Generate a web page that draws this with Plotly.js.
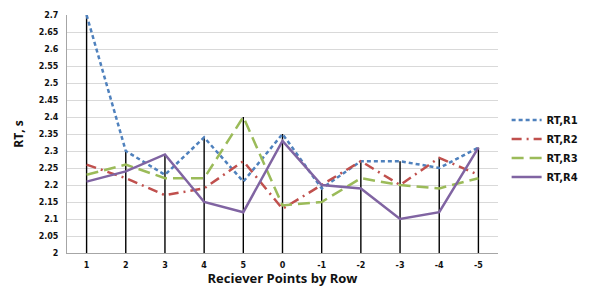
<!DOCTYPE html>
<html><head><meta charset="utf-8">
<script src="https://cdn.plot.ly/plotly-3.0.1.min.js"></script>
<style>body{margin:0;padding:0;background:#fff}#c{width:596px;height:287px}</style>
</head><body><div id="c"></div>
<script>
const categories = ["1","2","3","4","5","0","-1","-2","-3","-4","-5"];
const rtR1 = [2.70,2.30,2.23,2.34,2.21,2.35,2.19,2.27,2.27,2.25,2.31];
const rtR2 = [2.26,2.22,2.17,2.19,2.27,2.13,2.20,2.27,2.20,2.28,2.23];
const rtR3 = [2.23,2.26,2.22,2.22,2.40,2.14,2.15,2.22,2.20,2.19,2.22];
const rtR4 = [2.21,2.24,2.29,2.15,2.12,2.33,2.20,2.19,2.10,2.12,2.31];
const seriesNames = ["RT,R1","RT,R2","RT,R3","RT,R4"];
const yTicks = [2,2.05,2.1,2.15,2.2,2.25,2.3,2.35,2.4,2.45,2.5,2.55,2.6,2.65,2.7];

const all = [rtR1,rtR2,rtR3,rtR4];
const colors = ["#4f81bd","#c0504d","#9bbb59","#8064a2"];
const dashes = ["4px,3px","10px,5px,2px,5px","12px,6px","solid"];

// drop lines from highest point to axis
const dx = [], dy = [];
categories.forEach((c,i)=>{
  const m = Math.max(...all.map(a=>a[i]));
  dx.push(c,c,null); dy.push(2,m,null);
});
const traces = [{
  x: dx, y: dy, mode:'lines', line:{color:'#000',width:1.4}, showlegend:false, hoverinfo:'skip'
}];
all.forEach((a,k)=>traces.push({
  x: categories, y: a, name: seriesNames[k], mode:'lines',
  line:{color:colors[k], width:2.5, dash:dashes[k]}
}));

const tf = {family:'"DejaVu Sans", Verdana, sans-serif', size:8, color:'#111', weight:'bold'};
Plotly.newPlot('c', traces, {
  width:596, height:287,
  margin:{l:67,r:93,t:15,b:34},
  paper_bgcolor:'#fff', plot_bgcolor:'#fff',
  showlegend:true,
  legend:{x:1.02, y:0.62, xanchor:'left', yanchor:'top', bgcolor:'rgba(0,0,0,0)',
    font:{family:'"DejaVu Sans", Verdana, sans-serif', size:10, color:'#111', weight:'bold'},
    tracegroupgap:0, itemwidth:30},
  xaxis:{type:'category', categoryorder:'array', categoryarray:categories,
    range:[-0.5,10.5], showgrid:false, showline:true, linecolor:'#a6a6a6', linewidth:1,
    ticks:'', tickfont:tf, zeroline:false, ticklabelstandoff:4,
    title:{text:'Reciever Points by Row', standoff:2,
      font:{family:'"Open Sans", "DejaVu Sans", sans-serif', size:13, color:'#111', weight:'bold'}}},
  yaxis:{range:[2,2.7], tickvals:yTicks, ticktext:yTicks.map(v=>String(v)),
    showgrid:true, gridcolor:'#d9d9d9', gridwidth:1, showline:true, linecolor:'#a6a6a6',
    zeroline:false, ticks:'', ticklen:0, tickfont:tf, ticklabelstandoff:6,
    title:{text:'RT, s', standoff:12,
      font:{family:'"Open Sans", "DejaVu Sans", sans-serif', size:12, color:'#111', weight:'bold'}}}
}, {staticPlot:true});
</script></body></html>
